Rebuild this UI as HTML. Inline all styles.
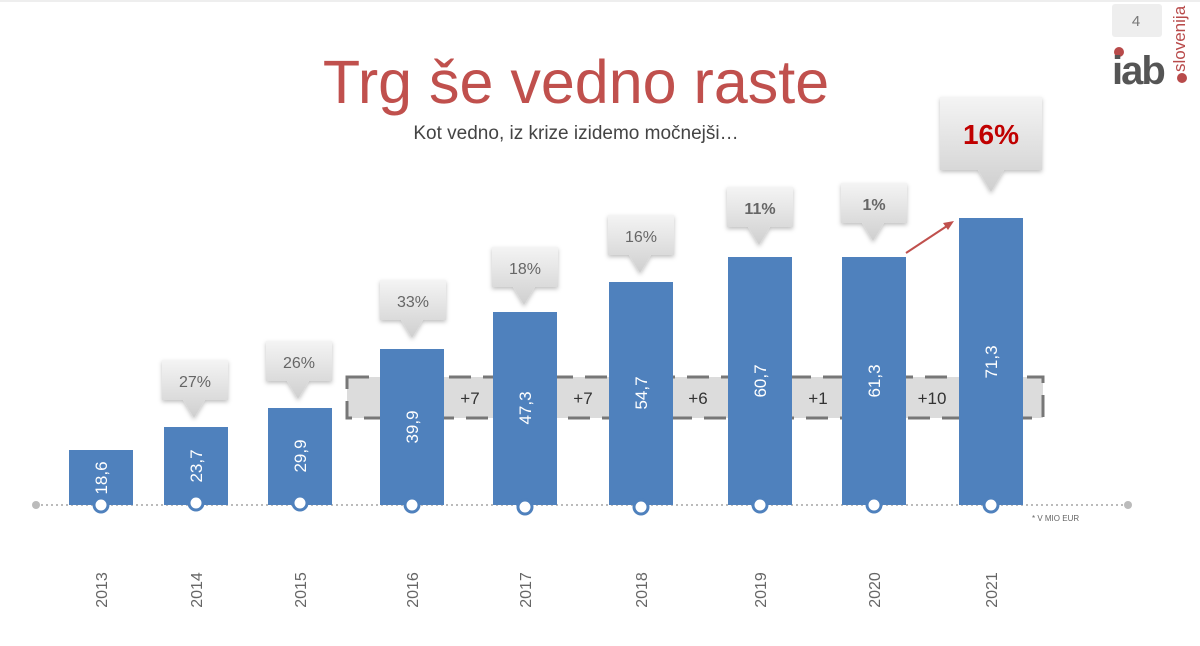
<!DOCTYPE html><html><head><meta charset="utf-8"><style>body{margin:0;background:#fff}svg{display:block}text{font-family:"Liberation Sans",sans-serif}</style></head><body>
<svg width="1200" height="646" viewBox="0 0 1200 646">
<defs><linearGradient id="g" x1="0" y1="0" x2="0" y2="1"><stop offset="0" stop-color="#f4f4f4"/><stop offset="1" stop-color="#cfcfcf"/></linearGradient>
<filter id="s" x="-20%" y="-20%" width="140%" height="150%"><feDropShadow dx="0" dy="2" stdDeviation="2" flood-color="#000" flood-opacity="0.25"/></filter></defs>
<line x1="0" y1="1" x2="1200" y2="1" stroke="#ddd"/>
<rect x="1112" y="4" width="50" height="33" rx="3" fill="#eeeeee"/>
<text x="1136" y="26" font-size="15" fill="#777" text-anchor="middle">4</text>
<circle cx="1119" cy="52" r="5" fill="#b84a4a"/>
<text x="1112" y="84" font-size="40" font-weight="bold" fill="#555" letter-spacing="-2">iab</text>
<circle cx="1182" cy="78" r="5" fill="#b84a4a"/>
<text transform="translate(1185,72) rotate(-90)" font-size="17" fill="#b84a4a">slovenija</text>
<text x="576" y="103" font-size="61" fill="#c0504d" text-anchor="middle">Trg še vedno raste</text>
<text x="576" y="139" font-size="19" fill="#444" text-anchor="middle">Kot vedno, iz krize izidemo močnejši…</text>
<rect x="347" y="377" width="696" height="41" fill="#dcdcdc" stroke="#777" stroke-width="3" stroke-dasharray="22,12"/>
<line x1="36" y1="505" x2="1128" y2="505" stroke="#bbb" stroke-width="2" stroke-dasharray="2,3"/>
<circle cx="36" cy="505" r="4" fill="#bbb"/><circle cx="1128" cy="505" r="4" fill="#bbb"/>
<text x="1032" y="521" font-size="8" fill="#666">* V MIO EUR</text>
<g fill="#4f81bd">
<rect x="69" y="450" width="64" height="55"/><rect x="164" y="427" width="64" height="78"/><rect x="268" y="408" width="64" height="97"/><rect x="380" y="349" width="64" height="156"/><rect x="493" y="312" width="64" height="193"/><rect x="609" y="282" width="64" height="223"/><rect x="728" y="257" width="64" height="248"/><rect x="842" y="257" width="64" height="248"/><rect x="959" y="218" width="64" height="287"/></g>
<g font-size="17" fill="#333" text-anchor="middle"><text x="470" y="404">+7</text><text x="583" y="404">+7</text><text x="698" y="404">+6</text><text x="818" y="404">+1</text><text x="932" y="404">+10</text></g>
<g font-size="17" fill="#fff" text-anchor="middle">
<text transform="translate(107,478) rotate(-90)">18,6</text><text transform="translate(202,466) rotate(-90)">23,7</text><text transform="translate(306,456) rotate(-90)">29,9</text><text transform="translate(418,427) rotate(-90)">39,9</text><text transform="translate(531,408) rotate(-90)">47,3</text><text transform="translate(647,393) rotate(-90)">54,7</text><text transform="translate(766,381) rotate(-90)">60,7</text><text transform="translate(880,381) rotate(-90)">61,3</text><text transform="translate(997,362) rotate(-90)">71,3</text></g>
<g fill="#fff" stroke="#4f81bd" stroke-width="3"><circle cx="101" cy="505" r="7"/><circle cx="196" cy="503" r="7"/><circle cx="300" cy="503" r="7"/><circle cx="412" cy="505" r="7"/><circle cx="525" cy="507" r="7"/><circle cx="641" cy="507" r="7"/><circle cx="760" cy="505" r="7"/><circle cx="874" cy="505" r="7"/><circle cx="991" cy="505" r="7"/></g>
<g font-size="16" fill="#666" text-anchor="middle">
<text transform="translate(107,590) rotate(-90)">2013</text><text transform="translate(202,590) rotate(-90)">2014</text><text transform="translate(306,590) rotate(-90)">2015</text><text transform="translate(418,590) rotate(-90)">2016</text><text transform="translate(531,590) rotate(-90)">2017</text><text transform="translate(647,590) rotate(-90)">2018</text><text transform="translate(766,590) rotate(-90)">2019</text><text transform="translate(880,590) rotate(-90)">2020</text><text transform="translate(997,590) rotate(-90)">2021</text></g>
<g filter="url(#s)" fill="url(#g)">
<path d="M162 360h66v40h-23l-11 18l-11-18h-21z"/>
<path d="M266 341h66v40h-23l-11 18l-11-18h-21z"/>
<path d="M380 280h66v40h-23l-11 18l-11-18h-21z"/>
<path d="M492 247h66v40h-23l-11 18l-11-18h-21z"/>
<path d="M608 215h66v40h-23l-11 18l-11-18h-21z"/>
<path d="M727 187h66v40h-23l-11 18l-11-18h-21z"/>
<path d="M841 183h66v40h-23l-11 18l-11-18h-21z"/>
<path d="M940 97h102v73h-38l-13 22l-13-22h-38z"/>
</g>
<g font-size="16" fill="#666" text-anchor="middle"><text x="195" y="387">27%</text><text x="299" y="368">26%</text><text x="413" y="307">33%</text><text x="525" y="274">18%</text><text x="641" y="242">16%</text><text x="760" y="214" font-weight="bold">11%</text><text x="874" y="210" font-weight="bold">1%</text></g>
<text x="991" y="144" font-size="28" font-weight="bold" fill="#c00000" text-anchor="middle">16%</text>
<line x1="906" y1="253" x2="950" y2="224" stroke="#c0504d" stroke-width="2"/>
<path d="M954 221l-11 2l5 7z" fill="#c0504d"/>
</svg></body></html>
